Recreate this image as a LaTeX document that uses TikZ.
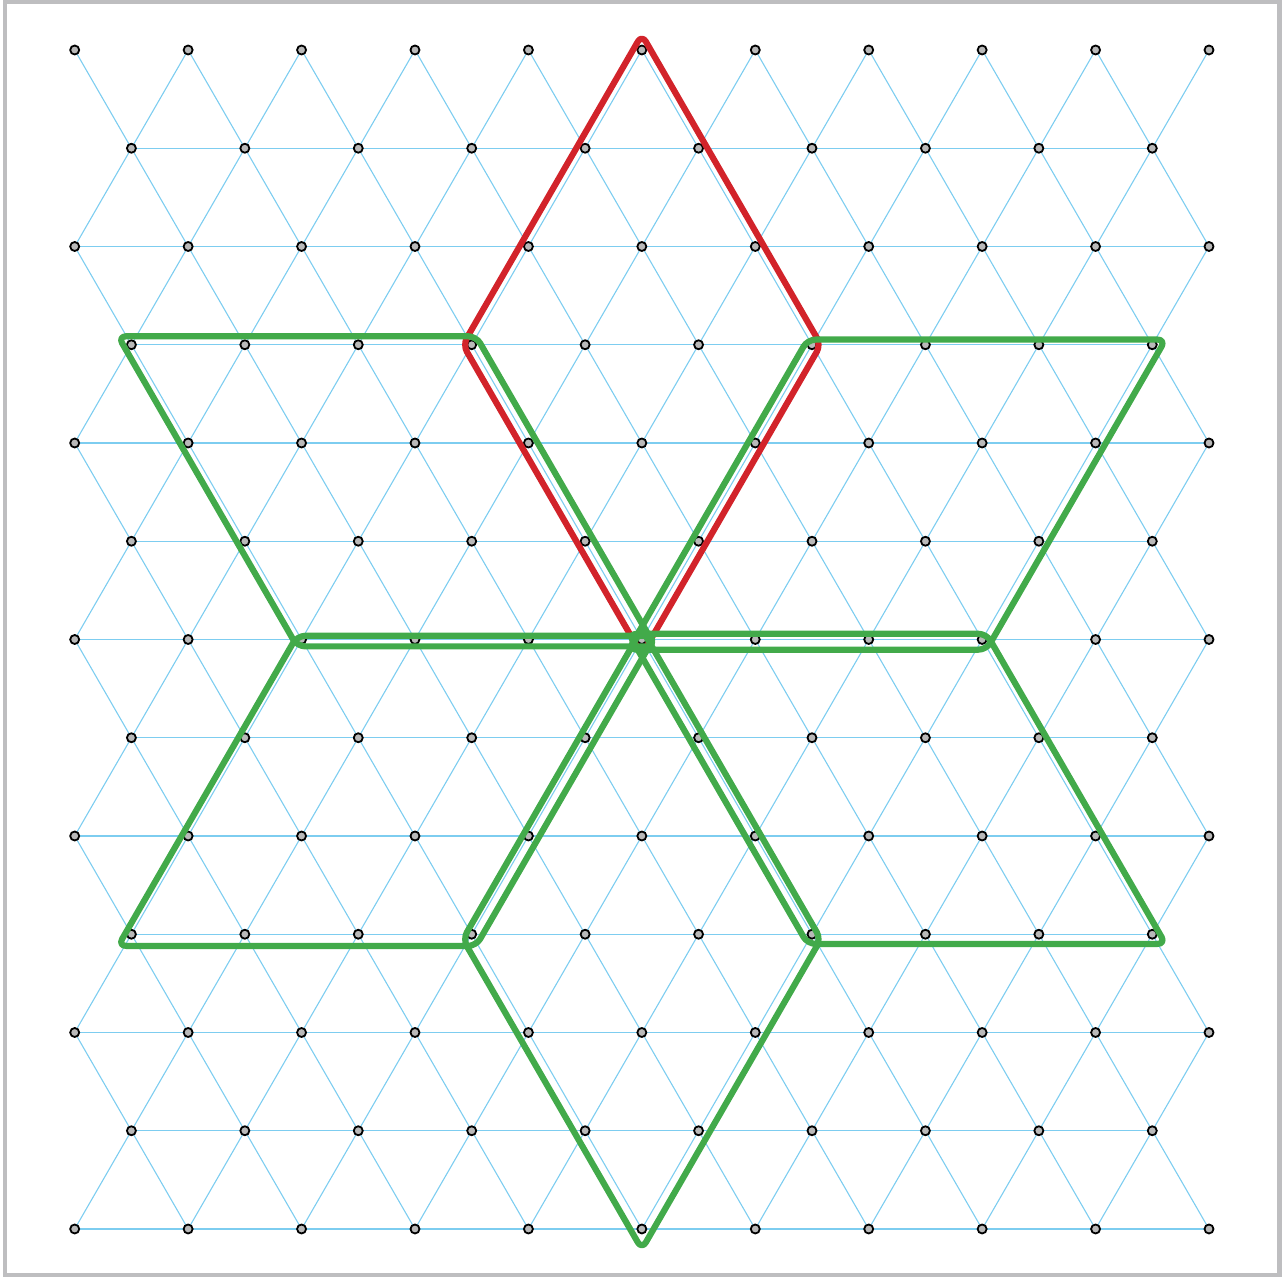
\documentclass[tikz,border=0pt]{standalone}
\usetikzlibrary{calc}
\definecolor{latblue}{RGB}{125,205,240}
\definecolor{dotgrey}{RGB}{185,185,185}
\definecolor{framegrey}{RGB}{190,190,192}
\definecolor{starred}{RGB}{210,35,42}
\definecolor{stargreen}{RGB}{66,170,74}
\pgfdeclarelayer{bg}
\pgfsetlayers{bg,main}
\newcommand\starrhomb[7]{%
  \coordinate (#1) at ($(#4.center)!0.5!(#6.center)$);
  \draw[rhomb,draw=#2,transform canvas={yshift=#3}]
    ($(#1)!1.052!(#4.center)$) -- ($(#1)!1.052!(#5.center)$) --
    ($(#1)!1.052!(#6.center)$) -- ($(#1)!1.052!(#7.center)$) -- cycle;
}
\begin{document}
\begin{tikzpicture}[x=0.5pt,y=-0.5pt,
  dot/.style={circle,draw=black,fill=dotgrey,line width=0.9pt,inner sep=0pt,minimum size=4.5pt},
  lat/.style={draw=latblue,line width=0.55pt},
  frame/.style={draw=framegrey,line width=2.25pt},
  rhomb/.style={line width=3.1pt,rounded corners=4pt,line join=round},
]
\useasboundingbox (0,0) rectangle (1282,1277);
\draw[frame] (5,2) rectangle (1279.5,1275);
% lattice points
\foreach \r in {0,...,12}{
  \foreach \j in {0,...,20}{
    \ifodd\numexpr\j+\r\relax\else
      \node[dot] (p-\j-\r) at ({74.7+56.715*\j},{50+98.25*\r}) {};
    \fi
  }
}
% lattice lines
\begin{pgfonlayer}{bg}
\foreach \r in {0,...,12}{
  \foreach \j in {0,...,20}{
    \ifodd\numexpr\j+\r\relax\else
      \pgfmathtruncatemacro\jh{\j+2}
      \pgfmathtruncatemacro\jl{\j-1}
      \pgfmathtruncatemacro\ja{\j+1}
      \pgfmathtruncatemacro\rn{\r+1}
      \ifnum\r>0 \ifnum\j<19 \draw[lat] (p-\j-\r.center) -- (p-\jh-\r.center); \fi\fi
      \ifnum\r<12
        \ifnum\j>0 \draw[lat] (p-\j-\r.center) -- (p-\jl-\rn.center); \fi
        \ifnum\j<20 \draw[lat] (p-\j-\r.center) -- (p-\ja-\rn.center); \fi
      \fi
    \fi
  }
}
\end{pgfonlayer}
% star rhombi
\starrhomb{c-red}{starred}{0pt}{p-10-0}{p-13-3}{p-10-6}{p-7-3}
\starrhomb{c-lt}{stargreen}{0.4pt}{p-1-3}{p-7-3}{p-10-6}{p-4-6}
\starrhomb{c-rt}{stargreen}{-1.25pt}{p-13-3}{p-19-3}{p-16-6}{p-10-6}
\starrhomb{c-lb}{stargreen}{-2pt}{p-4-6}{p-10-6}{p-7-9}{p-1-9}
\starrhomb{c-rb}{stargreen}{-1pt}{p-10-6}{p-16-6}{p-19-9}{p-13-9}
\starrhomb{c-b}{stargreen}{-2.5pt}{p-10-6}{p-13-9}{p-10-12}{p-7-9}
\end{tikzpicture}
\end{document}
